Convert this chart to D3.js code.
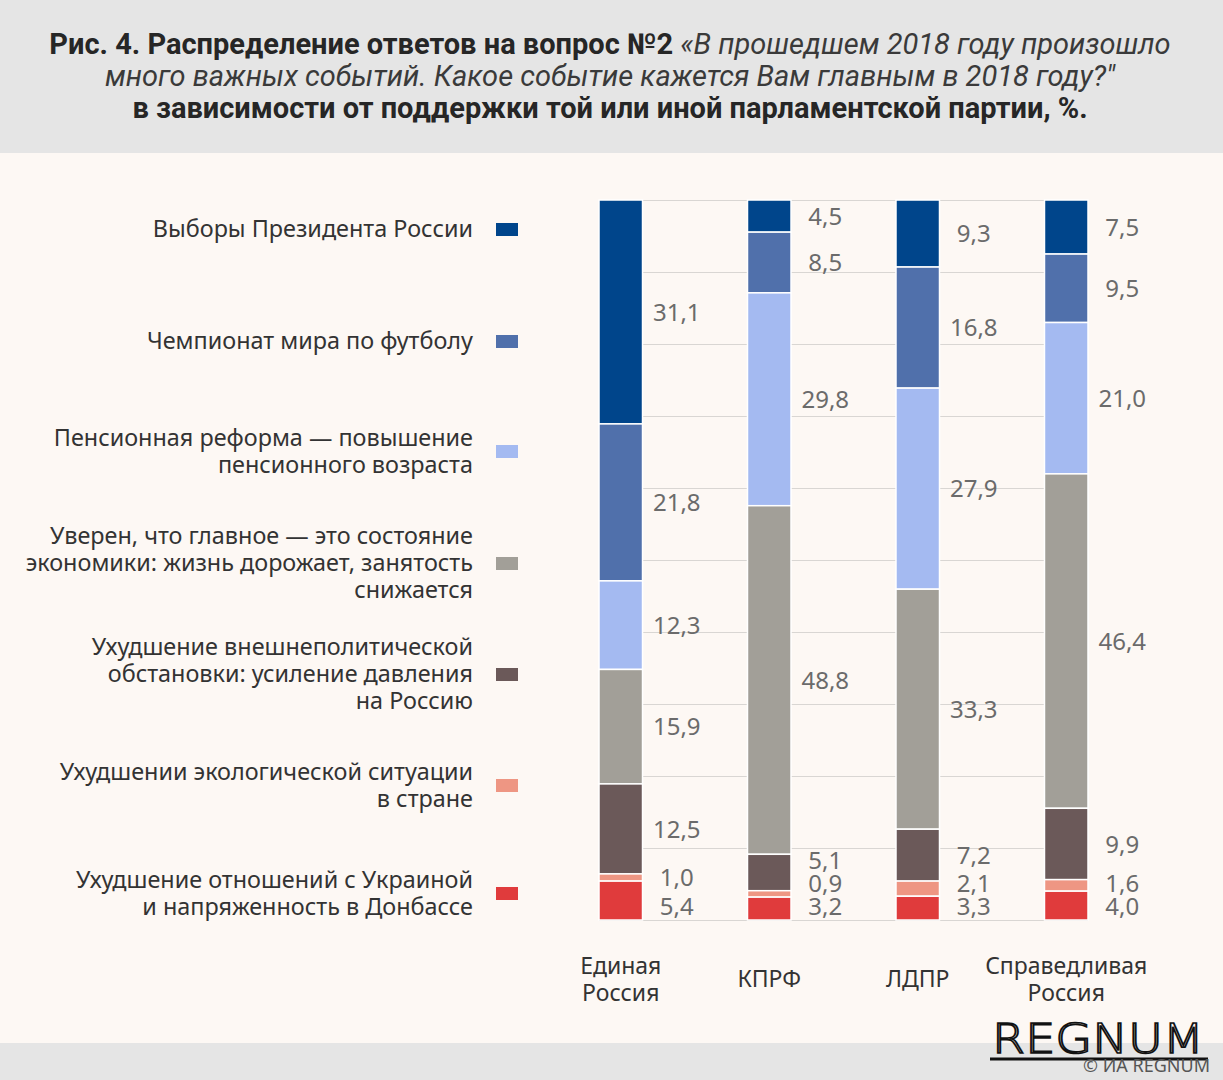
<!DOCTYPE html>
<html><head><meta charset="utf-8">
<script src="https://cdn.jsdelivr.net/npm/d3@7"></script>
<style>
html,body{margin:0;padding:0;background:#fdf8f4;}
svg{display:block;}
</style></head>
<body>
<svg id="chart" width="1223" height="1080"></svg>
<script>
// ---- data ----
const parties = ["Единая Россия", "КПРФ", "ЛДПР", "Справедливая Россия"];
const partyLines = [["Единая", "Россия"], ["КПРФ"], ["ЛДПР"], ["Справедливая", "Россия"]];
const answers = [
  "Выборы Президента России",
  "Чемпионат мира по футболу",
  "Пенсионная реформа — повышение пенсионного возраста",
  "Уверен, что главное — это состояние экономики: жизнь дорожает, занятость снижается",
  "Ухудшение внешнеполитической обстановки: усиление давления на Россию",
  "Ухудшении экологической ситуации в стране",
  "Ухудшение отношений с Украиной и напряженность в Донбассе"
];
const answerLines = [
  ["Выборы Президента России"],
  ["Чемпионат мира по футболу"],
  ["Пенсионная реформа — повышение", "пенсионного возраста"],
  ["Уверен, что главное — это состояние", "экономики: жизнь дорожает, занятость", "снижается"],
  ["Ухудшение внешнеполитической", "обстановки: усиление давления", "на Россию"],
  ["Ухудшении экологической ситуации", "в стране"],
  ["Ухудшение отношений с Украиной", "и напряженность в Донбассе"]
];
const valuesER   = [31.1, 21.8, 12.3, 15.9, 12.5, 1.0, 5.4];
const valuesKPRF = [4.5, 8.5, 29.8, 48.8, 5.1, 0.9, 3.2];
const valuesLDPR = [9.3, 16.8, 27.9, 33.3, 7.2, 2.1, 3.3];
const valuesSR   = [7.5, 9.5, 21.0, 46.4, 9.9, 1.6, 4.0];
const colors = ["#00458b", "#5070ab", "#a4baf1", "#a29f98", "#6b5959", "#ee9683", "#e03b3c"];
const gridTicks = [0, 0.1, 0.2, 0.3, 0.4, 0.5, 0.6, 0.7, 0.8, 0.9, 1.0];

const partyValues = [valuesER, valuesKPRF, valuesLDPR, valuesSR];
const table = parties.map((p, i) => {
  const row = { party: p };
  answers.forEach((a, j) => row[a] = partyValues[i][j]);
  return row;
});

// ---- layout ----
const svg = d3.select("#chart");
const W = 1223, H = 1080;

svg.append("rect").attr("x", 0).attr("y", 0).attr("width", W).attr("height", H).attr("fill", "#fdf8f4");
svg.append("rect").attr("x", 0).attr("y", 0).attr("width", W).attr("height", 153).attr("fill", "#e5e5e5");
svg.append("rect").attr("x", 0).attr("y", 1043).attr("width", W).attr("height", 37).attr("fill", "#e5e5e5");

// title
const titleFont = "'Roboto', 'Liberation Sans', sans-serif";
const t1 = svg.append("text").attr("x", 610).attr("y", 54).attr("text-anchor", "middle")
  .style("font-family", titleFont).style("font-size", "29px").attr("fill", "#262626");
t1.append("tspan").style("font-weight", "bold").text("Рис. 4. Распределение ответов на вопрос №2 ");
t1.append("tspan").style("font-style", "italic").attr("fill", "#3a3a3a").text("«В прошедшем 2018 году произошло");
svg.append("text").attr("x", 610).attr("y", 86).attr("text-anchor", "middle")
  .style("font-family", titleFont).style("font-size", "29px").style("font-style", "italic").attr("fill", "#3a3a3a")
  .text("много важных событий. Какое событие кажется Вам главным в 2018 году?\"");
svg.append("text").attr("x", 610).attr("y", 118).attr("text-anchor", "middle")
  .style("font-family", titleFont).style("font-size", "29px").style("font-weight", "bold").attr("fill", "#262626")
  .text("в зависимости от поддержки той или иной парламентской партии, %.");

// scales
const x = d3.scaleBand().domain(parties).range([599, 1088]).paddingInner(0.707).paddingOuter(0);
const y = d3.scaleLinear().domain([0, 1]).range([200, 920]);
const color = d3.scaleOrdinal().domain(answers).range(colors);

// gridlines
svg.append("g").selectAll("line").data(gridTicks).join("line")
  .attr("x1", x(parties[0])).attr("x2", x(parties[parties.length - 1]) + x.bandwidth())
  .attr("y1", d => Math.round(y(d)) + 0.5).attr("y2", d => Math.round(y(d)) + 0.5)
  .attr("stroke", "#d9d6d3").attr("stroke-width", 1.2);

// stack
const series = d3.stack().keys(answers).offset(d3.stackOffsetExpand)(table);

const g = svg.append("g");
series.forEach((s, si) => {
  g.append("g").selectAll("rect").data(s).join("rect")
    .attr("x", d => x(d.data.party))
    .attr("width", x.bandwidth())
    .attr("y", d => y(d[0]))
    .attr("height", d => y(d[1]) - y(d[0]))
    .attr("fill", color(s.key))
    .attr("stroke", "#ffffff").attr("stroke-width", 1.5);
});

// value labels with simple collision handling
const labelFont = "'Noto Sans', 'Open Sans', sans-serif";
parties.forEach((p, pi) => {
  const mids = series.map(s => (y(s[pi][0]) + y(s[pi][1])) / 2);
  const ys = mids.slice();
  const n = ys.length;
  ys[n - 1] = y(1) - 14;
  for (let i = n - 2; i >= 0; i--) ys[i] = Math.min(mids[i], ys[i + 1] - 23);
  series.forEach((s, si) => {
    svg.append("text")
      .attr("x", x(p) + x.bandwidth() / 2 + 56)
      .attr("y", ys[si])
      .attr("dy", "0.36em")
      .attr("text-anchor", "middle")
      .style("font-family", labelFont).style("font-size", "24px")
      .attr("fill", "#6b6b6b")
      .text(d3.format(".1f")(partyValues[pi][si]).replace(".", ","));
  });
});

// category labels
parties.forEach((p, pi) => {
  const lines = partyLines[pi];
  const cy = 979;
  const t = svg.append("text").attr("text-anchor", "middle")
    .style("font-family", labelFont).style("font-size", "23px").attr("fill", "#333");
  lines.forEach((l, li) => {
    t.append("tspan").attr("x", x(p) + x.bandwidth() / 2)
      .attr("y", cy + (li - (lines.length - 1) / 2) * 27)
      .attr("dy", "0.36em").text(l);
  });
});

// legend
const legendY = [229, 341, 451, 563, 674, 785, 893];
answers.forEach((a, ai) => {
  const cy = legendY[ai];
  svg.append("rect").attr("x", 496).attr("y", cy - 6).attr("width", 22).attr("height", 13).attr("fill", color(a));
  const lines = answerLines[ai];
  const t = svg.append("text").attr("text-anchor", "end")
    .style("font-family", labelFont).style("font-size", "23.4px").attr("fill", "#333");
  lines.forEach((l, li) => {
    t.append("tspan").attr("x", 473)
      .attr("y", cy + (li - (lines.length - 1) / 2) * 27)
      .attr("dy", "0.36em").text(l);
  });
});

// logo
svg.append("text").attr("x", 992).attr("y", 1053)
  .style("font-family", "'DejaVu Sans', sans-serif").style("font-size", "40px").style("font-weight", "300")
  .attr("fill", "none").attr("stroke", "#111").attr("stroke-width", 1.6)
  .attr("textLength", 212).attr("lengthAdjust", "spacingAndGlyphs")
  .text("REGNUM");
svg.append("line").attr("x1", 990).attr("x2", 1208).attr("y1", 1059).attr("y2", 1059)
  .attr("stroke", "#111").attr("stroke-width", 3);
svg.append("text").attr("x", 1210).attr("y", 1072).attr("text-anchor", "end")
  .style("font-family", labelFont).style("font-size", "18px").attr("fill", "#555")
  .text("© ИА REGNUM");
</script>
</body></html>
